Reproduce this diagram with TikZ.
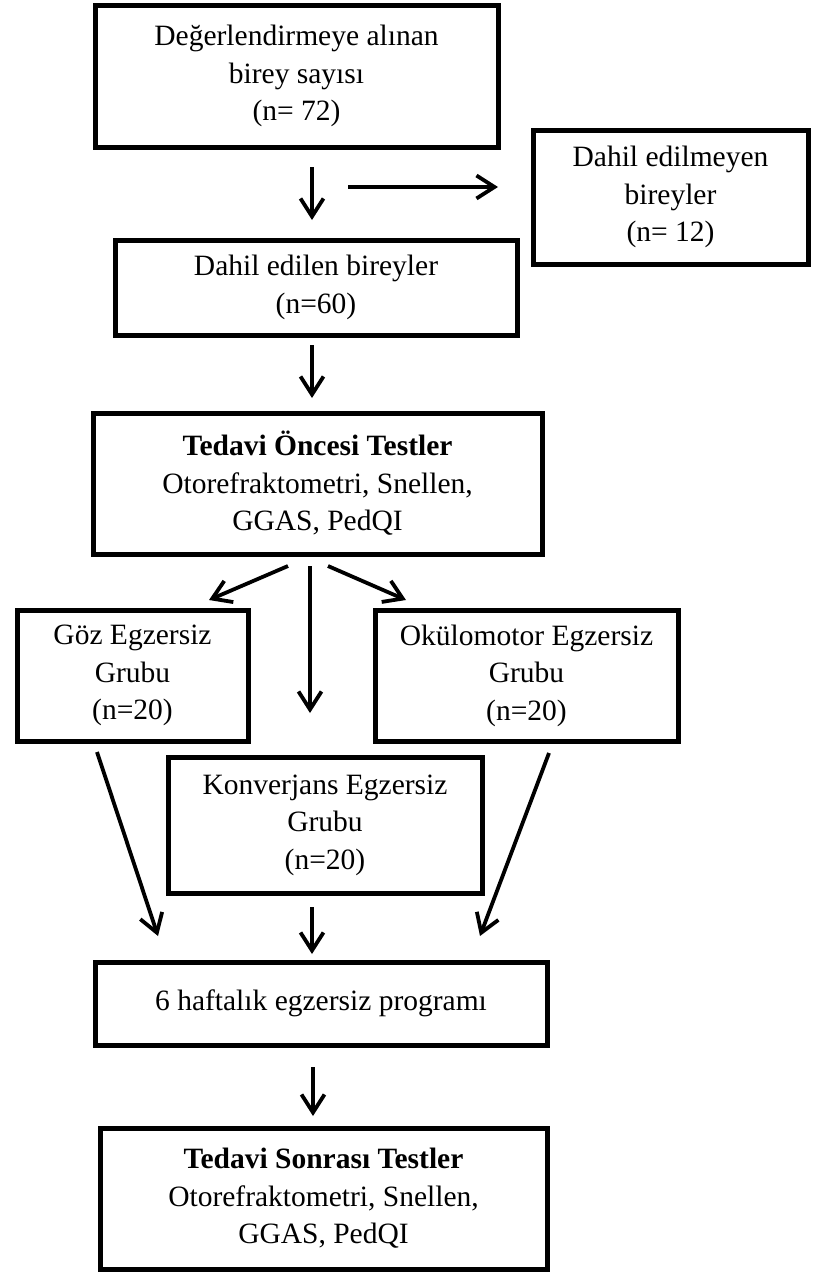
\documentclass[tikz,border=0pt]{standalone}
\usepackage{fontspec}
\setmainfont{Liberation Serif}
\usetikzlibrary{arrows.meta}
\begin{document}
\begin{tikzpicture}[x=1pt,y=-1pt,
  box/.style={draw=black,line width=5pt,rectangle,inner sep=0pt,align=center,
    font=\fontsize{29.5}{37.5}\selectfont},
  arr/.style={draw=black,line width=3.8pt,-{Straight Barb[length=18pt,width=23pt]}}]
\useasboundingbox (0,0) rectangle (813,1274);
\fill[white] (0,0) rectangle (813,1274);
% boxes
\node[box,minimum width=403pt,minimum height=142pt] (top) at (296.5,76) {Değerlendirmeye alınan\\birey sayısı\\(n= 72)};
\node[box,minimum width=275pt,minimum height=134pt] (exc) at (670.5,197) {Dahil edilmeyen\\bireyler\\(n= 12)};
\node[box,minimum width=402pt,minimum height=95pt] (inc) at (316,287.5) {Dahil edilen bireyler\\(n=60)};
\node[box,minimum width=449pt,minimum height=141pt] (pre) at (317.5,483.5) {\textbf{Tedavi Öncesi Testler}\\Otorefraktometri, Snellen,\\GGAS, PedQI};
\node[box,minimum width=231pt,minimum height=131pt] (goz) at (132.5,675.5) {Göz Egzersiz\\Grubu\\(n=20)};
\node[box,minimum width=303pt,minimum height=131pt] (oku) at (526.5,675.5) {Okülomotor Egzersiz\\Grubu\\(n=20)};
\node[box,minimum width=314pt,minimum height=136pt] (kon) at (325,825) {Konverjans Egzersiz\\Grubu\\(n=20)};
\node[box,minimum width=452pt,minimum height=83pt] (prog) at (321,1003.5) {6 haftalık egzersiz programı};
\node[box,minimum width=447pt,minimum height=141pt] (post) at (323.5,1198.5) {\textbf{Tedavi Sonrası Testler}\\Otorefraktometri, Snellen,\\GGAS, PedQI};
% arrow end points
\coordinate (a1s) at (312,167); \coordinate (a1e) at (312,220);
\coordinate (a2s) at (348,187); \coordinate (a2e) at (498,187);
\coordinate (a3s) at (312,345); \coordinate (a3e) at (312,398);
\coordinate (d1s) at (288,566); \coordinate (d1e) at (209,600);
\coordinate (d2s) at (310,566); \coordinate (d2e) at (310,713);
\coordinate (d3s) at (328,566); \coordinate (d3e) at (406,600);
\coordinate (g1s) at (97,752);  \coordinate (g1e) at (158,936);
\coordinate (o1s) at (549,753); \coordinate (o1e) at (480,936);
\coordinate (k1s) at (312,907); \coordinate (k1e) at (312,954);
\coordinate (p1s) at (313,1067); \coordinate (p1e) at (313,1116);
% arrows
\draw[arr] (a1s) -- (a1e);
\draw[arr] (a2s) -- (a2e);
\draw[arr] (a3s) -- (a3e);
\draw[arr] (d1s) -- (d1e);
\draw[arr] (d2s) -- (d2e);
\draw[arr] (d3s) -- (d3e);
\draw[arr] (g1s) -- (g1e);
\draw[arr] (o1s) -- (o1e);
\draw[arr] (k1s) -- (k1e);
\draw[arr] (p1s) -- (p1e);
\end{tikzpicture}
\end{document}
